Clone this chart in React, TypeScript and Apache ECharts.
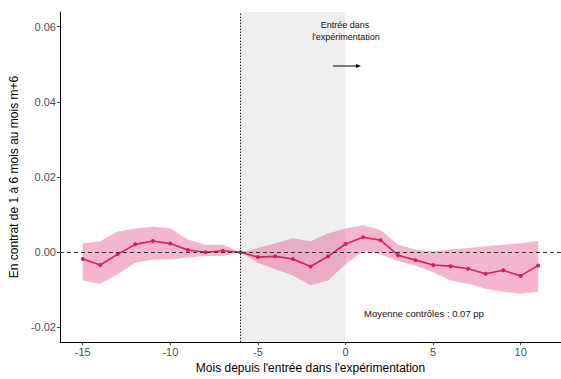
import React, { useEffect, useRef } from "react";
import * as echarts from "echarts";

const months = [-15, -14, -13, -12, -11, -10, -9, -8, -7, -6, -5, -4, -3, -2, -1, 0, 1, 2, 3, 4, 5, 6, 7, 8, 9, 10, 11];
const estimate = [-0.0018, -0.0034, -0.0005, 0.0021, 0.003, 0.0023, 0.0006, 0.0, 0.0004, 0.0, -0.0013, -0.0011, -0.0018, -0.0038, -0.0011, 0.0022, 0.004, 0.0032, -0.0008, -0.0021, -0.0034, -0.0037, -0.0044, -0.0057, -0.0048, -0.0063, -0.0035];
const upper = [0.0024, 0.0029, 0.0055, 0.0063, 0.0068, 0.0064, 0.0034, 0.002, 0.002, 0.0, 0.0011, 0.0024, 0.0037, 0.0029, 0.005, 0.0063, 0.0072, 0.0059, 0.002, 0.0007, 0.0002, 0.0007, 0.0011, 0.0016, 0.002, 0.0024, 0.003];
const lower = [-0.0075, -0.0084, -0.0058, -0.0028, -0.0019, -0.0019, -0.0014, -0.001, -0.001, 0.0, -0.0028, -0.0045, -0.0062, -0.0088, -0.0075, -0.0032, 0.0003, -0.0006, -0.0023, -0.0036, -0.0053, -0.0075, -0.0084, -0.0097, -0.0105, -0.011, -0.0105];
const xTicks = [-15, -10, -5, 0, 5, 10];
const yTicks = [-0.02, 0.0, 0.02, 0.04, 0.06];
const entryMonth = -6;
const treatmentStart = 0;

const FONT = "Liberation Sans, Arial, sans-serif";

export default function App() {
  const ref = useRef<HTMLDivElement>(null);
  useEffect(() => {
    if (!ref.current) return;
    const chart = echarts.init(ref.current, null, { renderer: "svg" });
    const bandData = months.map((m, i) => [m, lower[i], upper[i]]);
    const estData = months.map((m, i) => [m, estimate[i]]);
    chart.setOption({
      animation: false,
      backgroundColor: "#ffffff",
      grid: { left: 57, right: 0, top: 12, bottom: 30 },
      xAxis: {
        type: "value",
        min: -16.3,
        max: 12.3,
        name: "Mois depuis l'entrée dans l'expérimentation",
        nameLocation: "middle",
        nameGap: 16,
        nameTextStyle: { color: "#000", fontSize: 12, fontFamily: FONT },
        axisLine: { show: true, onZero: false, lineStyle: { color: "#000", width: 1 } },
        axisTick: { show: true, customValues: xTicks, length: 3, lineStyle: { color: "#444" } },
        axisLabel: {
          customValues: xTicks,
          color: "#4d4d4d",
          fontSize: 11,
          fontFamily: FONT,
          margin: 4,
          formatter: (v: number) => String(v),
        },
        splitLine: { show: false },
      },
      yAxis: {
        type: "value",
        min: -0.0239,
        max: 0.0639,
        name: "En contrat de 1 à 6 mois au mois m+6",
        nameLocation: "middle",
        nameGap: 37,
        nameTextStyle: { color: "#000", fontSize: 12, fontFamily: FONT },
        axisLine: { show: true, onZero: false, lineStyle: { color: "#000", width: 1 } },
        axisTick: { show: true, customValues: yTicks, length: 3, lineStyle: { color: "#444" } },
        axisLabel: {
          customValues: yTicks,
          color: "#4d4d4d",
          fontSize: 11,
          fontFamily: FONT,
          margin: 4,
          formatter: (v: number) => v.toFixed(2),
        },
        splitLine: { show: false },
      },
      series: [
        {
          type: "custom",
          data: bandData,
          encode: { x: 0, y: [1, 2] },
          silent: true,
          z: 1,
          renderItem: (params: any, api: any) => {
            if (params.dataIndex !== 0) return null;
            const top = months.map((m, i) => api.coord([m, upper[i]]));
            const bottom = months.map((m, i) => api.coord([m, lower[i]])).reverse();
            return {
              type: "polygon",
              shape: { points: top.concat(bottom) },
              style: { fill: "rgba(228, 80, 140, 0.42)", stroke: "none" },
            };
          },
          markArea: {
            silent: true,
            itemStyle: { color: "#eeeeee" },
            data: [[{ xAxis: entryMonth }, { xAxis: treatmentStart }]],
          },
        },
        {
          type: "line",
          data: estData,
          symbol: "circle",
          symbolSize: 4,
          lineStyle: { color: "#d81e5b", width: 1.6 },
          itemStyle: { color: "#d81e5b" },
          z: 3,
          markLine: {
            silent: true,
            symbol: "none",
            label: { show: false },
            data: [
              { yAxis: 0, lineStyle: { color: "#333", type: [4, 3], width: 1 } },
              { xAxis: entryMonth, lineStyle: { color: "#222", type: [1.5, 1.5], width: 1 } },
            ],
          },
        },
      ],
      graphic: [
        {
          type: "text",
          x: 345,
          y: 25,
          z: 10,
          style: {
            text: "Entrée dans",
            fontSize: 9,
            fontFamily: FONT,
            fill: "#111",
            align: "center",
            verticalAlign: "middle",
          },
        },
        {
          type: "text",
          x: 346,
          y: 37,
          z: 10,
          style: {
            text: "l'expérimentation",
            fontSize: 9,
            fontFamily: FONT,
            fill: "#111",
            align: "center",
            verticalAlign: "middle",
          },
        },
        {
          type: "line",
          z: 10,
          shape: { x1: 333, y1: 66, x2: 358, y2: 66 },
          style: { stroke: "#000", lineWidth: 1 },
        },
        {
          type: "polygon",
          z: 10,
          shape: { points: [[361, 66], [356, 64], [356, 68]] },
          style: { fill: "#000" },
        },
        {
          type: "text",
          x: 364,
          y: 313,
          z: 10,
          style: {
            text: "Moyenne contrôles : 0.07 pp",
            fontSize: 9.5,
            fontFamily: FONT,
            fill: "#111",
            align: "left",
            verticalAlign: "middle",
          },
        },
      ],
    });
    return () => chart.dispose();
  }, []);
  return (
    <div
      ref={ref}
      style={{ position: "fixed", left: 0, top: 0, width: 561, height: 379 }}
    />
  );
}
